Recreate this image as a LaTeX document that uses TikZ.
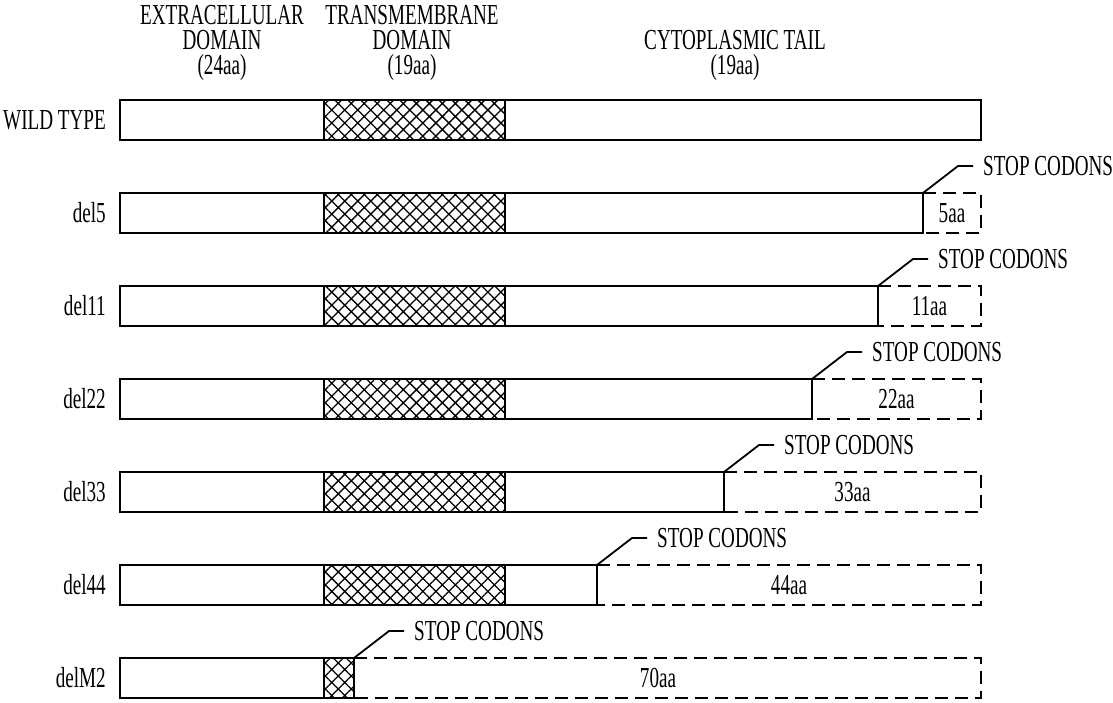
\documentclass[tikz,border=0pt]{standalone}
\usepackage{fontspec}
\setmainfont[FakeStretch=0.66]{Liberation Serif}
\usetikzlibrary{patterns.meta}

\begin{document}
\begin{tikzpicture}[x=1pt,y=-1pt,
    lbl/.style={font=\fontsize{29}{25}\selectfont,inner sep=0pt},
    seg/.style={draw=black,line width=2pt,fill=white},
    tm/.style={draw=black,line width=2pt,pattern={Hatch[angle=45,distance=9.2pt,line width=1.3pt]}},
    tail/.style={line width=2pt,dash pattern=on 13pt off 7pt},
    lead/.style={line width=1.8pt}]
  \fill[white] (0,0) rectangle (1113,702);
  \useasboundingbox (0,0) rectangle (1113,702);
  \def\xL{120}\def\xA{324}\def\xB{505}\def\xR{981}\def\barh{40}
  % headings
  \node[lbl,anchor=north,align=center] (ecd) at (222,5) {EXTRACELLULAR\\DOMAIN\\(24aa)};
  \node[lbl,anchor=north,align=center] (tmd) at (412,5) {TRANSMEMBRANE\\DOMAIN\\(19aa)};
  \node[lbl,anchor=north,align=center] (cyt) at (735,30) {CYTOPLASMIC TAIL\\(19aa)};
  % wild type
  \node[lbl,anchor=east] (row0) at (106,120) {WILD TYPE};
  \path[seg] (\xL,100) rectangle (\xA,140);
  \path[tm] (\xA,100) rectangle (\xB,140);
  \path[seg] (\xB,100) rectangle (\xR,140);
  % tail deletions
  \foreach \n/\lab/\sx/\aa in {1/del5/923/5aa,2/del11/878/11aa,3/del22/812/22aa,4/del33/724/33aa,5/del44/597/44aa}{
    \pgfmathsetmacro{\yT}{100+93*\n}
    \pgfmathsetmacro{\yB}{\yT+\barh}
    \path[seg] (\xL,\yT) rectangle (\xA,\yB);
    \path[tm] (\xA,\yT) rectangle (\xB,\yB);
    \path[seg] (\xB,\yT) rectangle (\sx,\yB);
    \draw[tail] (\sx,\yT) -- (\xR,\yT) -- (\xR,\yB) -- (\sx,\yB);
    \coordinate (stop\n) at (\sx,\yT);
    \node[lbl,anchor=east] (row\n) at (106,\yT+20) {\lab};
    \node[lbl] (len\n) at ({(\sx+\xR)/2},\yT+20) {\aa};
    \node[lbl,anchor=west,inner xsep=10pt] (cod\n) at (\sx+50,\yT-27) {STOP CODONS};
    \draw[lead] (stop\n) -- ++(35,-27) -- (cod\n.west);
  }
  % transmembrane deletion
  \def\yT{658}\def\yB{698}\def\sx{354}
  \path[seg] (\xL,\yT) rectangle (\xA,\yB);
  \path[tm] (\xA,\yT) rectangle (\sx,\yB);
  \draw[tail] (\sx,\yT) -- (\xR,\yT) -- (\xR,\yB) -- (\sx,\yB);
  \coordinate (stop6) at (\sx,\yT);
  \node[lbl,anchor=east] (row6) at (106,\yT+20) {delM2};
  \node[lbl] (len6) at (658,\yT+20) {70aa};
  \node[lbl,anchor=west,inner xsep=10pt] (cod6) at (\sx+50,\yT-27) {STOP CODONS};
  \draw[lead] (stop6) -- ++(35,-27) -- (cod6.west);
\end{tikzpicture}
\end{document}
